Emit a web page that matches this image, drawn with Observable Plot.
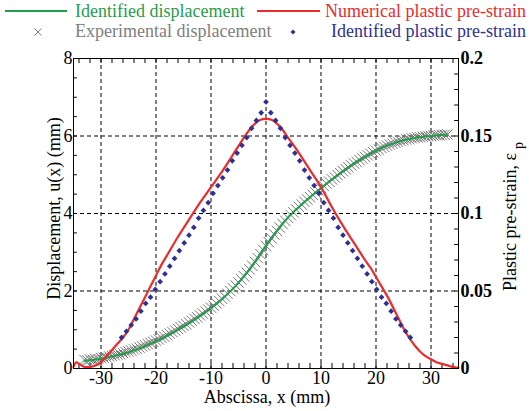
<!DOCTYPE html>
<html>
<head>
<meta charset="utf-8">
<script src="https://cdn.jsdelivr.net/npm/d3@7"></script>
<script src="https://cdn.jsdelivr.net/npm/@observablehq/plot@0.6"></script>
<style>
  html, body { margin: 0; padding: 0; background: #fff; }
  body { font-family: "Liberation Serif", "Times New Roman", serif; width: 529px; height: 411px; overflow: hidden; }
  #legend svg, #chart svg { display: block; }
</style>
</head>
<body>
<div id="legend"></div>
<div id="chart"></div>
<script>
// ---- Identified displacement u(x), mm ----
const idX = [-33,-32,-31,-30,-29,-28,-27,-26,-25,-24,-23,-22,-21,-20,-19,-18,-17,-16,-15,-14,-13,-12,-11,-10,-9,-8,-7,-6,-5,-4,-3,-2,-1,0,1,2,3,4,5,6,7,8,9,10,11,12,13,14,15,16,17,18,19,20,21,22,23,24,25,26,27,28,29,30,31,32,33];
const idU = [0.20,0.21,0.23,0.25,0.28,0.31,0.34,0.38,0.42,0.47,0.52,0.58,0.64,0.70,0.77,0.84,0.92,1.00,1.08,1.17,1.26,1.35,1.45,1.55,1.67,1.79,1.92,2.06,2.21,2.38,2.56,2.75,2.96,3.17,3.37,3.56,3.74,3.90,4.04,4.17,4.30,4.42,4.54,4.65,4.77,4.88,4.99,5.09,5.19,5.29,5.38,5.46,5.54,5.62,5.69,5.75,5.80,5.85,5.89,5.92,5.95,5.97,5.99,6.00,6.02,6.03,6.04];

// ---- Experimental displacement, mm ----
const expX = [-33,-32.5,-32,-31.5,-31,-30.5,-30,-29.5,-29,-28.5,-28,-27.5,-27,-26.5,-26,-25.5,-25,-24.5,-24,-23.5,-23,-22.5,-22,-21.5,-21,-20.5,-20,-19.5,-19,-18.5,-18,-17.5,-17,-16.5,-16,-15.5,-15,-14.5,-14,-13.5,-13,-12.5,-12,-11.5,-11,-10.5,-10,-9.5,-9,-8.5,-8,-7.5,-7,-6.5,-6,-5.5,-5,-4.5,-4,-3.5,-3,-2.5,-2,-1.5,-1,-0.5,0,0.5,1,1.5,2,2.5,3,3.5,4,4.5,5,5.5,6,6.5,7,7.5,8,8.5,9,9.5,10,10.5,11,11.5,12,12.5,13,13.5,14,14.5,15,15.5,16,16.5,17,17.5,18,18.5,19,19.5,20,20.5,21,21.5,22,22.5,23,23.5,24,24.5,25,25.5,26,26.5,27,27.5,28,28.5,29,29.5,30,30.5,31,31.5,32,32.5,33];
const expU = [0.22,0.21,0.23,0.22,0.24,0.25,0.27,0.28,0.29,0.31,0.32,0.34,0.36,0.37,0.40,0.42,0.44,0.46,0.49,0.51,0.54,0.57,0.60,0.63,0.66,0.69,0.72,0.75,0.79,0.82,0.86,0.90,0.94,0.98,1.02,1.06,1.10,1.14,1.19,1.23,1.28,1.32,1.37,1.42,1.47,1.52,1.57,1.62,1.68,1.74,1.80,1.86,1.93,2.00,2.07,2.14,2.22,2.30,2.38,2.47,2.56,2.65,2.75,2.85,2.95,3.06,3.16,3.26,3.36,3.46,3.55,3.64,3.73,3.81,3.89,3.96,4.03,4.10,4.17,4.23,4.30,4.36,4.42,4.48,4.54,4.60,4.65,4.71,4.77,4.82,4.88,4.93,4.99,5.04,5.09,5.14,5.19,5.24,5.29,5.33,5.38,5.42,5.46,5.50,5.54,5.58,5.62,5.65,5.69,5.72,5.75,5.78,5.80,5.83,5.85,5.87,5.89,5.91,5.92,5.94,5.95,5.96,5.97,5.98,5.99,6.00,6.00,6.01,6.02,6.02,6.03,6.03,6.04];

// ---- Numerical plastic pre-strain (right axis) ----
const numX = [-35,-34.5,-34,-33,-32,-31,-30,-29,-28,-27,-26,-25,-24,-23,-22,-21,-20,-19,-18,-16,-14,-12,-10,-8,-6,-4,-3,-2,-1,0,1,2,3,4,6,8,10,12,14,16,18,19,20,21,22,24,25,26,27,28,29,30,31,32,33,34,35];
const numEps = [0.001,0.004,0.003,0.001,0.001,0.002,0.004,0.008,0.012,0.016,0.020,0.025,0.032,0.039,0.046,0.053,0.060,0.067,0.073,0.085,0.096,0.107,0.117,0.127,0.138,0.149,0.154,0.158,0.1605,0.161,0.1605,0.158,0.154,0.149,0.139,0.128,0.117,0.104,0.092,0.081,0.070,0.065,0.059,0.053,0.047,0.033,0.026,0.020,0.015,0.011,0.008,0.006,0.004,0.003,0.002,0.001,0.0005];

// ---- Identified plastic pre-strain (right axis) ----
const ipX = [-26.25,-25.375,-24.5,-23.625,-22.75,-21.875,-21,-20.125,-19.25,-18.375,-17.5,-16.625,-15.75,-14.875,-14,-13.125,-12.25,-11.375,-10.5,-9.625,-8.75,-7.875,-7,-6.125,-5.25,-4.375,-3.5,-2.625,-1.75,-0.875,0,0.875,1.75,2.625,3.5,4.375,5.25,6.125,7,7.875,8.75,9.625,10.5,11.375,12.25,13.125,14,14.875,15.75,16.625,17.5,18.375,19.25,20.125,21,21.875,22.75,23.625,24.5,25.375,26.25];
const ipEps = [0.020,0.024,0.028,0.032,0.037,0.042,0.046,0.051,0.056,0.061,0.066,0.071,0.076,0.081,0.086,0.091,0.097,0.102,0.107,0.113,0.118,0.123,0.128,0.134,0.139,0.144,0.149,0.155,0.160,0.165,0.172,0.165,0.160,0.155,0.149,0.144,0.139,0.134,0.128,0.123,0.118,0.113,0.107,0.102,0.097,0.091,0.086,0.081,0.076,0.071,0.066,0.061,0.056,0.051,0.046,0.042,0.037,0.032,0.028,0.024,0.020];

// ---- Axes ----
const xTicks = [-30,-20,-10,0,10,20,30];
const xMinor = [-34,-32,-30,-28,-26,-24,-22,-20,-18,-16,-14,-12,-10,-8,-6,-4,-2,0,2,4,6,8,10,12,14,16,18,20,22,24,26,28,30,32,34];
const uTicks = [0,2,4,6,8];
const uGrid = [2,4,6];
const uMinor = [0.5,1,1.5,2,2.5,3,3.5,4,4.5,5,5.5,6,6.5,7,7.5];
const epsTicks = [0,0.05,0.1,0.15,0.2];
const epsTickLabels = ["0","0.05","0.1","0.15","0.2"];
const epsMinor = [0.01,0.02,0.03,0.04,0.05,0.06,0.07,0.08,0.09,0.1,0.11,0.12,0.13,0.14,0.15,0.16,0.17,0.18,0.19];

// right axis spans 0–0.2 while the left spans 0–8 mm
const EPS_TO_U = 8 / 0.2;

const GREEN = "#1f9e4b", RED = "#ec2b2b", BLUE = "#2e3192", GREY = "#767676";
const FONT = "'Liberation Serif', 'Times New Roman', serif";

const identified = idX.map((x, i) => ({x, u: idU[i]}));
const experimental = expX.map((x, i) => ({x, u: expU[i]}));
const numerical = numX.map((x, i) => ({x, eps: numEps[i]}));
const identifiedEps = ipX.map((x, i) => ({x, eps: ipEps[i]}));

// ---- Legend (two rows above the plot) ----
const leg = d3.select("#legend").append("svg")
  .attr("width", 529).attr("height", 48)
  .style("font-family", FONT).style("font-size", "18px");
leg.append("line").attr("x1", 5).attr("x2", 67).attr("y1", 11).attr("y2", 11)
  .attr("stroke", GREEN).attr("stroke-width", 2);
leg.append("text").attr("x", 75).attr("y", 17).attr("fill", GREEN).text("Identified displacement");
leg.append("line").attr("x1", 257).attr("x2", 320).attr("y1", 11).attr("y2", 11)
  .attr("stroke", RED).attr("stroke-width", 2);
leg.append("text").attr("x", 325).attr("y", 17).attr("fill", RED).text("Numerical plastic pre-strain");
leg.append("path").attr("d", "M34.5,28.5L41.5,35.5M41.5,28.5L34.5,35.5")
  .attr("stroke", "#808080").attr("stroke-width", 1).attr("fill", "none");
leg.append("text").attr("x", 75).attr("y", 37).attr("fill", "#808080").text("Experimental displacement");
leg.append("path").attr("d", "M293,29.5L295.5,32L293,34.5L290.5,32Z").attr("fill", BLUE);
leg.append("text").attr("x", 331).attr("y", 37).attr("fill", BLUE).text("Identified plastic pre-strain");

// ---- Plot ----
const chart = Plot.plot({
  width: 529,
  height: 363,
  marginTop: 10,
  marginLeft: 73,
  marginRight: 71,
  marginBottom: 43,
  style: {fontFamily: FONT, fontSize: "18px", color: "#000", background: "#fff"},
  x: {domain: [-35, 35]},
  y: {domain: [0, 8]},
  marks: [
    // dashed grid
    Plot.ruleX(xTicks, {stroke: "#000", strokeWidth: 1, strokeDasharray: "4,3"}),
    Plot.ruleY(uGrid, {stroke: "#000", strokeWidth: 1, strokeDasharray: "4,3"}),
    // inward ticks on all four sides
    Plot.ruleX(xMinor, {x: d => d, y1: 0, y2: 0.13, stroke: "#000"}),
    Plot.ruleX(xMinor, {x: d => d, y1: 8, y2: 7.87, stroke: "#000"}),
    Plot.ruleY(uMinor, {y: d => d, x1: -35, x2: -34.3, stroke: "#000"}),
    Plot.ruleY(epsMinor, {y: d => d * EPS_TO_U, x1: 35, x2: 34.3, stroke: "#000"}),
    // experimental displacement
    Plot.dot(experimental, {x: "x", y: "u", symbol: "times", r: 4.8, stroke: GREY, strokeWidth: 1}),
    // identified displacement
    Plot.line(identified, {x: "x", y: "u", stroke: GREEN, strokeWidth: 2, curve: "catmull-rom"}),
    // numerical plastic pre-strain
    Plot.line(numerical, {x: "x", y: d => d.eps * EPS_TO_U, stroke: RED, strokeWidth: 2.2, curve: "catmull-rom"}),
    // identified plastic pre-strain
    Plot.dot(identifiedEps, {x: "x", y: d => d.eps * EPS_TO_U, symbol: "diamond2", r: 2.6, fill: BLUE, stroke: "none"}),
    Plot.frame({stroke: "#000"}),
    Plot.axisX({ticks: xTicks, tickSize: 0, tickPadding: 3, tickFormat: d => String(d), label: null}),
    Plot.axisY({anchor: "left", ticks: uTicks, tickSize: 0, tickPadding: 1, tickFormat: d => String(d), label: null}),
    Plot.axisY({anchor: "right", ticks: epsTicks.map(e => e * EPS_TO_U), tickSize: 0, tickPadding: 2,
      tickFormat: d => epsTickLabels[epsTicks.findIndex(e => Math.abs(e * EPS_TO_U - d) < 1e-9)],
      fontWeight: "bold", label: null}),
    // axis titles
    Plot.text(["Displacement, u(x) (mm)"], {frameAnchor: "left", textAnchor: "middle", lineAnchor: "middle",
      rotate: -90, dx: -19, dy: -5, fontSize: 18}),
    Plot.text(["Abscissa, x (mm)"], {frameAnchor: "bottom", textAnchor: "middle", lineAnchor: "middle",
      dx: 1, dy: 29, fontSize: 18}),
    Plot.text(["Plastic pre-strain, ε"], {frameAnchor: "right", textAnchor: "middle", lineAnchor: "middle",
      rotate: -90, dx: 52, dy: 3, fontSize: 18})
  ]
});

// subscript p on the right-axis title
d3.select(chart).selectAll("text")
  .filter(function () { return this.textContent === "Plastic pre-strain, ε"; })
  .append("tspan").attr("dx", 4).attr("dy", "0.45em").style("font-size", "14px").text("p");

document.getElementById("chart").appendChild(chart);
</script>
</body>
</html>
